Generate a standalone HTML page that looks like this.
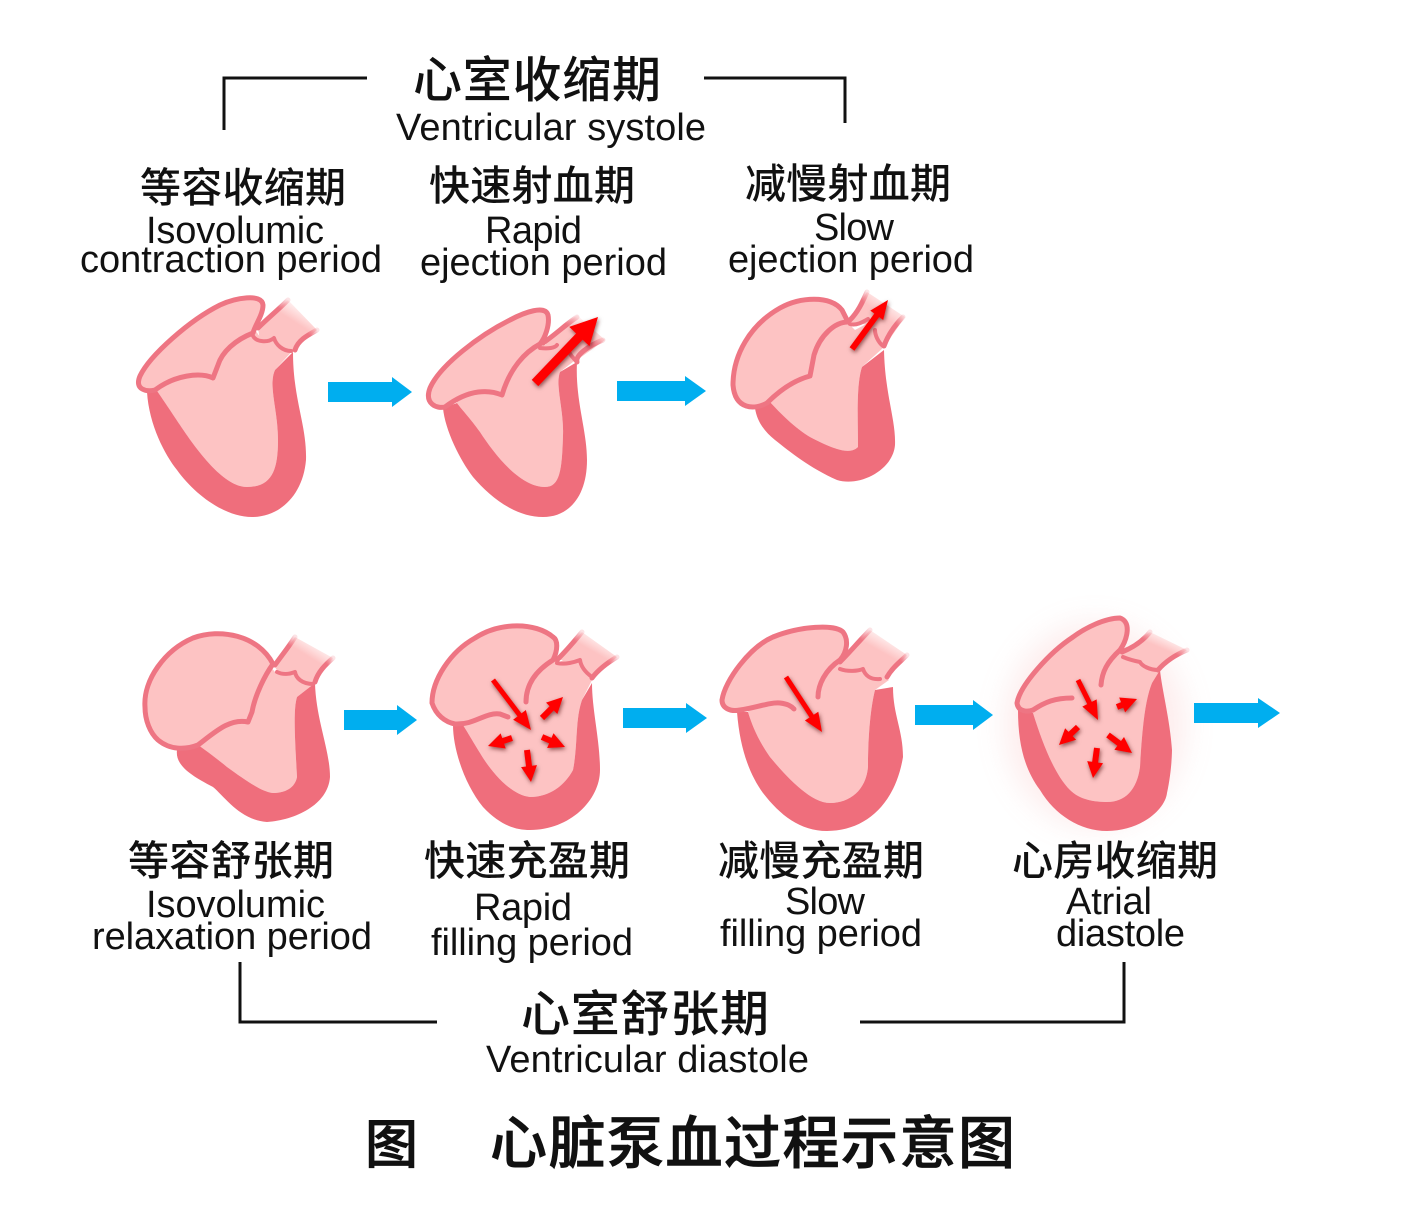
<!DOCTYPE html>
<html><head><meta charset="utf-8">
<style>
html,body{margin:0;padding:0;background:#fff}
svg{display:block}
.l{fill:#FDC3C3}
.w{fill:#EF6E7C}
.a{fill:#FDC3C3;stroke:#EE7583;stroke-width:5;stroke-linecap:round;stroke-linejoin:round}
.v{fill:none;stroke:#EE7583;stroke-width:4;stroke-linecap:round;stroke-linejoin:round}
.f{fill:url(#fade)}
.s{fill:none;stroke:url(#fadeS);stroke-width:5;stroke-linecap:round}
.b{fill:#00AEEF}
.k{fill:none;stroke:#111;stroke-width:3}
.r{stroke:#f00;fill:none}
.e{font-family:"Liberation Sans",sans-serif;font-size:38px;fill:#111}
.c{font-family:"Liberation Sans","Noto Sans CJK SC",sans-serif;font-size:41px;fill:#111;font-weight:500}
.t{font-family:"Liberation Sans","Noto Sans CJK SC",sans-serif;font-size:49px;fill:#111;font-weight:500}
.m{font-family:"Liberation Sans","Noto Sans CJK SC",sans-serif;font-size:57px;fill:#111;stroke:#111;stroke-width:.8;font-weight:500}
</style></head><body>
<svg width="1417" height="1217" viewBox="0 0 1417 1217" xmlns="http://www.w3.org/2000/svg">
<defs>
<linearGradient id="fade" x1="0.2" y1="0.9" x2="0.8" y2="0.1">
<stop offset="0" stop-color="#FDC3C3"/><stop offset="0.62" stop-color="#FDC3C3"/><stop offset="1" stop-color="#FDC3C3" stop-opacity="0"/>
</linearGradient>
<linearGradient id="fadeS" x1="0" y1="1" x2="1" y2="0">
<stop offset="0" stop-color="#EE7583"/><stop offset="0.7" stop-color="#EE7583"/><stop offset="1" stop-color="#EE7583" stop-opacity="0.2"/>
</linearGradient>
<filter id="sh" x="-50%" y="-50%" width="200%" height="200%"><feDropShadow dx="1" dy="2" stdDeviation="2" flood-color="#400" flood-opacity="0.6"/></filter>
<filter id="gl" x="-50%" y="-50%" width="200%" height="200%"><feGaussianBlur stdDeviation="16"/></filter>
<marker id="hb" markerUnits="userSpaceOnUse" markerWidth="40" markerHeight="40" refX="30" refY="20" orient="auto" overflow="visible"><path d="M3 6 L30 20 L3 34Z" fill="#f00"/></marker>
<marker id="hm" markerUnits="userSpaceOnUse" markerWidth="30" markerHeight="30" refX="24" refY="15" orient="auto" overflow="visible"><path d="M5 7 L24 15 L5 23Z" fill="#f00"/></marker>
<marker id="hs" markerUnits="userSpaceOnUse" markerWidth="30" markerHeight="30" refX="22" refY="15" orient="auto" overflow="visible"><path d="M6 7 L22 15 L6 23Z" fill="#f00"/></marker>
</defs>

<!-- brackets -->
<path class="k" d="M224 130 V78 H367"/>
<path class="k" d="M704 78 H845 V123"/>
<path class="k" d="M240 962 V1022 H437"/>
<path class="k" d="M860 1022 H1124 V962"/>

<!-- titles -->
<text class="t" x="413" y="97" textLength="248">心室收缩期</text>
<text class="e" x="396" y="140" textLength="310">Ventricular systole</text>
<text class="c" x="140" y="202" textLength="206">等容收缩期</text>
<text class="c" x="429" y="200" textLength="206">快速射血期</text>
<text class="c" x="745" y="198" textLength="206">减慢射血期</text>
<text class="e" x="146" y="243" textLength="178">Isovolumic</text>
<text class="e" x="80" y="272" textLength="302">contraction period</text>
<text class="e" x="485" y="243" textLength="97">Rapid</text>
<text class="e" x="420" y="275" textLength="247">ejection period</text>
<text class="e" x="814" y="240" textLength="80">Slow</text>
<text class="e" x="728" y="272" textLength="246">ejection period</text>

<!-- heart 1 -->
<path class="l" d="M165 385 L200 350 L245 315 L262 340 L276 335 L295 348 L275 370 C268 385 278 410 278 440 C278 470 272 487 247 487 C225 487 200 455 180 425 C170 410 160 395 155 388Z"/>
<path class="w" d="M147 392 C149 425 165 455 177 470 C195 495 225 517 252 517 C280 517 303 495 306 460 C307 425 293 400 293 352 L275 370 C268 385 278 410 278 440 C278 470 272 487 247 487 C225 487 200 455 180 425 C170 410 160 395 155 388Z"/>
<path class="f" d="M258 327 L288 300 L317 330 L293 350 L280 348 L275 338 L260 342Z"/>
<path class="s" d="M258 328 C268 318 278 310 288 300"/>
<path class="s" d="M295 350 C298 340 308 335 317 330"/>
<path class="v" d="M253 336 C256 342 268 343 274 338 C276 345 283 351 291 351"/>
<path class="a" d="M140 376 C150 355 190 320 220 305 C235 298 262 293 263 305 C263 315 255 325 253 333 C235 340 222 352 218 365 L213 378 C200 372 175 375 155 390 C147 392 134 390 140 376Z"/>

<!-- heart 2 -->
<path class="l" d="M455 400 L490 360 L530 325 L545 345 L565 338 L578 358 L560 372 C555 385 564 410 563 435 C562 470 560 487 545 487 C520 487 495 455 480 432 C470 418 462 410 457 403Z"/>
<path class="w" d="M443 408 C445 430 460 460 473 477 C490 497 515 517 543 517 C570 517 587 495 587 460 C587 430 575 400 577 362 L560 372 C555 385 564 410 563 435 C562 470 560 487 545 487 C520 487 495 455 480 432 C470 418 462 410 457 403Z"/>
<path class="f" d="M543 343 L577 315 L605 340 L577 360Z"/>
<path class="s" d="M543 343 C555 335 565 325 577 317"/>
<path class="s" d="M577 362 C575 355 590 345 603 340"/>
<path class="v" d="M540 348 C548 349 555 348 557 345 M568 350 C570 355 575 360 577 362"/>
<path class="a" d="M430 388 C440 365 480 335 510 320 C525 312 545 305 548 315 C550 325 545 338 540 344 C525 352 510 368 502 395 C490 390 470 388 445 407 C437 409 424 404 430 388Z"/>
<g filter="url(#sh)"><line class="r" x1="535" y1="383" x2="598" y2="317" stroke-width="9" pathLength="100" stroke-dasharray="76 100" marker-end="url(#hb)"/></g>

<!-- heart 3 -->
<path class="l" d="M775 395 L790 340 L840 315 L855 330 L870 322 L884 347 L862 367 C856 385 858 420 858 447 C850 455 835 450 810 437 C795 428 780 413 770 402Z"/>
<path class="w" d="M755 408 C757 422 765 432 775 440 C790 452 810 468 837 480 C860 487 893 470 895 445 C896 420 885 395 884 350 L862 367 C856 385 858 420 858 447 C850 455 835 450 810 437 C795 428 780 413 770 402Z"/>
<path class="f" d="M848 322 L867 292 L905 317 L884 347 L870 325Z"/>
<path class="s" d="M850 320 C858 312 862 303 867 292"/>
<path class="s" d="M884 346 C888 335 895 325 903 317"/>
<path class="v" d="M850 324 C856 326 863 322 868 319 M875 330 C875 335 878 342 883 346"/>
<path class="a" d="M733 385 C733 355 750 325 780 308 C800 297 830 295 842 310 L848 322 C835 322 820 335 814 355 L810 376 C795 380 780 390 767 403 C755 410 735 410 733 385Z"/>
<g filter="url(#sh)"><line class="r" x1="852" y1="349" x2="888" y2="300" stroke-width="6" pathLength="100" stroke-dasharray="75 100" marker-end="url(#hm)"/></g>

<!-- top blue arrows -->
<path class="b" d="M328 382 H392 V377 L412 392 L392 407 V402 H328Z"/>
<path class="b" d="M617 381 H685 V376 L706 391 L685 406 V401 H617Z"/>

<!-- heart 4 -->
<path class="l" d="M200 740 L200 680 L265 660 L275 672 L295 666 L315 683 L297 697 C293 710 295 740 297 777 C295 788 285 793 273 793 C262 792 245 780 227 767 C215 757 205 750 198 748Z"/>
<path class="w" d="M177 750 C175 765 190 775 213 787 C225 797 240 820 267 822 C295 820 328 805 330 777 C330 750 316 720 315 683 L297 697 C293 710 295 740 297 777 C295 788 285 793 273 793 C262 792 245 780 227 767 C215 757 205 750 198 745Z"/>
<path class="f" d="M275 667 L295 637 L333 658 L315 682 L303 685 L293 673 L278 672Z"/>
<path class="s" d="M275 665 C282 655 288 648 295 637"/>
<path class="s" d="M315 682 C318 672 325 665 333 658"/>
<path class="v" d="M277 672 C283 675 290 674 295 672 C296 678 302 684 313 684"/>
<path class="a" d="M145 707 C143 680 165 650 193 638 C220 628 258 635 273 664 C265 675 255 695 252 712 L248 722 C230 718 215 732 198 745 C185 750 170 750 158 740 C150 733 145 720 145 707Z"/>

<!-- heart 5 -->
<path class="l" d="M463 723 L480 680 L540 650 L560 662 L575 652 L592 680 L582 700 C575 720 578 745 573 770 C565 785 550 797 530 797 C510 795 490 770 480 753 C472 740 468 733 463 725Z"/>
<path class="w" d="M453 725 C453 750 465 785 483 807 C500 825 515 830 530 830 C570 830 600 800 600 770 C600 740 592 710 592 683 L582 700 C575 720 578 745 573 770 C565 785 550 797 530 797 C510 795 490 770 480 753 C472 740 468 733 463 725Z"/>
<path class="f" d="M557 660 L582 632 L617 657 L592 678 L585 673 L580 660Z"/>
<path class="s" d="M557 660 C565 652 573 643 582 632"/>
<path class="s" d="M592 678 C598 670 607 663 617 657"/>
<path class="v" d="M557 663 C565 665 575 662 580 660 C581 667 585 672 592 677"/>
<path class="a" d="M526 702 C526 688 532 673 553 660 C558 650 558 640 553 637 C535 622 500 622 475 638 C450 652 432 680 432 703 C436 715 445 722 455 724 C475 725 485 712 500 714 L508 717"/>
<g filter="url(#sh)">
<line class="r" x1="493" y1="680" x2="531" y2="730" stroke-width="5" pathLength="100" stroke-dasharray="75 100" marker-end="url(#hm)"/>
<line class="r" x1="542" y1="718" x2="563" y2="697" stroke-width="6" pathLength="100" stroke-dasharray="60 100" marker-end="url(#hs)"/>
<line class="r" x1="542" y1="737" x2="565" y2="747" stroke-width="6" pathLength="100" stroke-dasharray="60 100" marker-end="url(#hs)"/>
<line class="r" x1="527" y1="750" x2="531" y2="782" stroke-width="6" pathLength="100" stroke-dasharray="60 100" marker-end="url(#hs)"/>
<line class="r" x1="512" y1="738" x2="488" y2="746" stroke-width="6" pathLength="100" stroke-dasharray="60 100" marker-end="url(#hs)"/>
</g>

<!-- heart 6 -->
<path class="l" d="M748 712 L770 670 L835 640 L845 668 L865 660 L889 680 L875 690 C870 710 868 740 868 767 C866 790 850 803 830 803 C810 803 785 775 770 757 C758 740 752 725 748 712Z"/>
<path class="w" d="M737 712 C740 750 750 775 763 793 C780 815 800 831 827 831 C865 831 895 805 903 757 C903 730 893 715 893 687 L875 690 C870 710 868 740 868 767 C866 790 850 803 830 803 C810 803 785 775 770 757 C758 740 752 725 748 712Z"/>
<path class="f" d="M840 663 L870 630 L907 655 L887 677 L873 680 L863 670 L843 670Z"/>
<path class="s" d="M840 662 C850 652 860 640 870 630"/>
<path class="s" d="M887 677 C892 668 900 662 907 655"/>
<path class="v" d="M840 669 C848 672 858 671 863 669 C865 675 870 680 880 679"/>
<path class="a" d="M818 697 C818 685 825 670 840 660 C847 652 849 640 843 632 C835 624 800 626 773 637 C750 647 725 680 722 700 C722 708 730 712 740 710 C755 708 770 702 780 703 C788 704 791 706 794 709"/>
<g filter="url(#sh)"><line class="r" x1="786" y1="677" x2="822" y2="732" stroke-width="5" pathLength="100" stroke-dasharray="75 100" marker-end="url(#hm)"/></g>

<!-- heart 7 -->
<ellipse cx="1095" cy="725" rx="88" ry="100" fill="#F59A9A" opacity="0.2" filter="url(#gl)"/>
<path class="l" d="M1033 713 L1060 670 L1110 640 L1125 657 L1145 650 L1160 670 L1152 683 C1145 700 1142 730 1140 767 C1137 790 1125 802 1107 802 C1095 802 1080 800 1070 790 C1055 775 1043 745 1033 713Z"/>
<path class="w" d="M1018 710 C1018 745 1025 770 1040 790 C1055 815 1080 831 1107 831 C1140 831 1165 810 1167 793 C1172 770 1172 750 1172 750 C1170 720 1162 690 1160 670 L1152 683 C1145 700 1142 730 1140 767 C1137 790 1125 802 1107 802 C1095 802 1080 800 1070 790 C1055 775 1043 745 1033 713Z"/>
<path class="f" d="M1122 652 L1150 632 L1187 650 L1158 670 L1147 668 L1140 662 L1123 657Z"/>
<path class="s" d="M1122 652 C1132 648 1142 642 1150 632"/>
<path class="s" d="M1158 670 C1165 662 1175 655 1187 650"/>
<path class="v" d="M1123 657 C1130 660 1135 661 1140 662 C1142 666 1150 670 1158 670"/>
<path class="a" d="M1101 685 C1102 672 1107 662 1120 650 C1127 640 1132 622 1120 618 C1105 618 1085 628 1073 637 C1050 652 1020 685 1017 703 C1018 712 1028 712 1033 710 C1045 702 1055 698 1072 698"/>
<g filter="url(#sh)">
<line class="r" x1="1078" y1="680" x2="1098" y2="720" stroke-width="5" pathLength="100" stroke-dasharray="70 100" marker-end="url(#hm)"/>
<line class="r" x1="1117" y1="707" x2="1137" y2="699" stroke-width="6" pathLength="100" stroke-dasharray="60 100" marker-end="url(#hs)"/>
<line class="r" x1="1108" y1="735" x2="1132" y2="753" stroke-width="6" pathLength="100" stroke-dasharray="60 100" marker-end="url(#hs)"/>
<line class="r" x1="1097" y1="748" x2="1093" y2="778" stroke-width="6" pathLength="100" stroke-dasharray="60 100" marker-end="url(#hs)"/>
<line class="r" x1="1078" y1="727" x2="1059" y2="745" stroke-width="6" pathLength="100" stroke-dasharray="60 100" marker-end="url(#hs)"/>
</g>

<!-- lower blue arrows -->
<path class="b" d="M344 710 H397 V705 L417 720 L397 735 V730 H344Z"/>
<path class="b" d="M623 708 H686 V703 L707 718 L686 733 V728 H623Z"/>
<path class="b" d="M915 705 H973 V700 L993 715 L973 730 V725 H915Z"/>
<path class="b" d="M1194 703 H1258 V698 L1280 713 L1258 728 V723 H1194Z"/>

<!-- lower labels -->
<text class="c" x="128" y="875" textLength="206">等容舒张期</text>
<text class="c" x="424" y="875" textLength="206">快速充盈期</text>
<text class="c" x="718" y="875" textLength="206">减慢充盈期</text>
<text class="c" x="1012" y="875" textLength="206">心房收缩期</text>
<text class="e" x="146" y="917" textLength="179">Isovolumic</text>
<text class="e" x="92" y="949" textLength="280">relaxation period</text>
<text class="e" x="474" y="920" textLength="98">Rapid</text>
<text class="e" x="431" y="955" textLength="202">filling period</text>
<text class="e" x="785" y="914" textLength="80">Slow</text>
<text class="e" x="720" y="946" textLength="202">filling period</text>
<text class="e" x="1066" y="914" textLength="86">Atrial</text>
<text class="e" x="1056" y="946" textLength="129">diastole</text>
<text class="t" x="521" y="1031" textLength="248">心室舒张期</text>
<text class="e" x="486" y="1072" textLength="323">Ventricular diastole</text>

<!-- caption -->
<text class="m" x="365" y="1163" style="font-size:53px">图</text>
<text class="m" x="490" y="1163" textLength="525">心脏泵血过程示意图</text>
</svg>
</body></html>
